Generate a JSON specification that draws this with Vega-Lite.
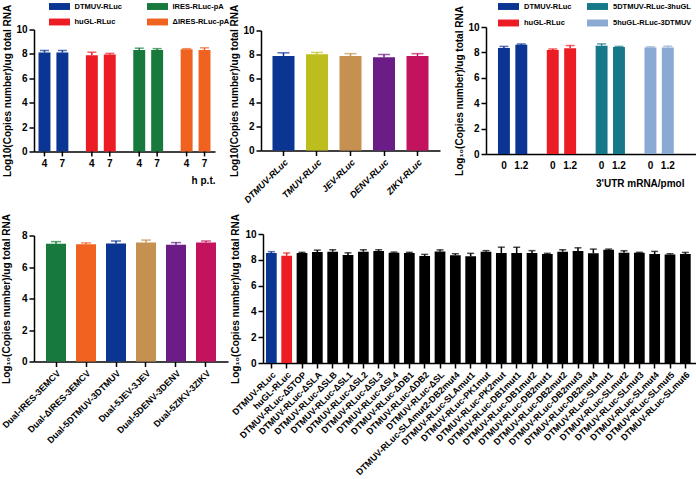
{
"$schema":"https://vega.github.io/schema/vega-lite/v6.json",
"padding":{"left":0,"top":1,"right":0,"bottom":0},
"spacing":8,
"config":{"font":"Liberation Sans","view":{"stroke":null},
"axis":{"domainColor":"black","domainWidth":1.5,"tickColor":"black","tickWidth":1.5,"tickSize":5,"labelFontWeight":"bold","labelFontSize":10,"labelColor":"black","titleFontWeight":"bold","titleFontSize":10,"titleColor":"black","grid":false,"labelPadding":2,"labelOverlap":false},
"legend":{"labelFontWeight":"bold","labelColor":"black"}},
"datasets":{
"a":[{"c":"DTMUV-RLuc","t":"4","v":8.11,"hi":8.28},{"c":"DTMUV-RLuc","t":"7","v":8.11,"hi":8.28},{"c":"huGL-RLuc","t":"4","v":7.89,"hi":8.14},{"c":"huGL-RLuc","t":"7","v":7.96,"hi":8.04},{"c":"IRES-RLuc-pA","t":"4","v":8.32,"hi":8.47},{"c":"IRES-RLuc-pA","t":"7","v":8.32,"hi":8.43},{"c":"ΔIRES-RLuc-pA","t":"4","v":8.38,"hi":8.43},{"c":"ΔIRES-RLuc-pA","t":"7","v":8.32,"hi":8.5}],
"b":[{"c":"DTMUV-RLuc","v":7.88,"hi":8.14},{"c":"TMUV-RLuc","v":8.02,"hi":8.17},{"c":"JEV-RLuc","v":7.88,"hi":8.07},{"c":"DENV-RLuc","v":7.77,"hi":8.0},{"c":"ZIKV-RLuc","v":7.88,"hi":8.07}],
"c":[{"c":"DTMUV-RLuc","t":"0","v":8.34,"hi":8.47},{"c":"DTMUV-RLuc","t":"1.2","v":8.6,"hi":8.67},{"c":"huGL-RLuc","t":"0","v":8.18,"hi":8.26},{"c":"huGL-RLuc","t":"1.2","v":8.32,"hi":8.54},{"c":"5DTMUV-RLuc-3huGL","t":"0","v":8.53,"hi":8.67},{"c":"5DTMUV-RLuc-3huGL","t":"1.2","v":8.42,"hi":8.47},{"c":"5huGL-RLuc-3DTMUV","t":"0","v":8.39,"hi":8.44},{"c":"5huGL-RLuc-3DTMUV","t":"1.2","v":8.39,"hi":8.49}],
"d":[{"c":"Dual-IRES-3EMCV","v":7.47,"hi":7.61},{"c":"Dual-ΔIRES-3EMCV","v":7.45,"hi":7.53},{"c":"Dual-5DTMUV-3DTMUV","v":7.5,"hi":7.65},{"c":"Dual-5JEV-3JEV","v":7.55,"hi":7.71},{"c":"Dual-5DENV-3DENV","v":7.41,"hi":7.55},{"c":"Dual-5ZIKV-3ZIKV","v":7.55,"hi":7.65}],
"e":[{"c":"DTMUV-RLuc","g":"DTMUV","v":8.53,"hi":8.63},{"c":"huGL-RLuc","g":"huGL","v":8.32,"hi":8.53},{"c":"DTMUV-RLuc-Δ5TOP","g":"mut","v":8.53,"hi":8.58},{"c":"DTMUV-RLuc-ΔSLA","g":"mut","v":8.6,"hi":8.75},{"c":"DTMUV-RLuc-ΔSLB","g":"mut","v":8.63,"hi":8.78},{"c":"DTMUV-RLuc-ΔSL1","g":"mut","v":8.37,"hi":8.54},{"c":"DTMUV-RLuc-ΔSL2","g":"mut","v":8.63,"hi":8.78},{"c":"DTMUV-RLuc-ΔSL3","g":"mut","v":8.68,"hi":8.78},{"c":"DTMUV-RLuc-ΔSL4","g":"mut","v":8.55,"hi":8.6},{"c":"DTMUV-RLuc-ΔDB1","g":"mut","v":8.53,"hi":8.58},{"c":"DTMUV-RLuc-ΔDB2","g":"mut","v":8.3,"hi":8.42},{"c":"DTMUV-RLuc-ΔSL","g":"mut","v":8.65,"hi":8.77},{"c":"DTMUV-RLuc-SLAmut2-DB2mut4","g":"mut","v":8.35,"hi":8.47},{"c":"DTMUV-RLuc-SLAmut1","g":"mut","v":8.27,"hi":8.5},{"c":"DTMUV-RLuc-PK1mut","g":"mut","v":8.63,"hi":8.71},{"c":"DTMUV-RLuc-PK2mut","g":"mut","v":8.53,"hi":8.98},{"c":"DTMUV-RLuc-DB1mut1","g":"mut","v":8.53,"hi":8.98},{"c":"DTMUV-RLuc-DB1mut2","g":"mut","v":8.53,"hi":8.71},{"c":"DTMUV-RLuc-DB2mut1","g":"mut","v":8.45,"hi":8.5},{"c":"DTMUV-RLuc-DB2mut2","g":"mut","v":8.63,"hi":8.78},{"c":"DTMUV-RLuc-DB2mut3","g":"mut","v":8.68,"hi":8.93},{"c":"DTMUV-RLuc-DB2mut4","g":"mut","v":8.5,"hi":8.83},{"c":"DTMUV-RLuc-SLmut1","g":"mut","v":8.78,"hi":8.83},{"c":"DTMUV-RLuc-SLmut2","g":"mut","v":8.55,"hi":8.7},{"c":"DTMUV-RLuc-SLmut3","g":"mut","v":8.55,"hi":8.58},{"c":"DTMUV-RLuc-SLmut4","g":"mut","v":8.45,"hi":8.65},{"c":"DTMUV-RLuc-SLmut5","g":"mut","v":8.42,"hi":8.47},{"c":"DTMUV-RLuc-SLmut6","g":"mut","v":8.45,"hi":8.57}]
},
"vconcat":[
{"hconcat":[
{"width":181,"height":122,"data":{"name":"a"},
"encoding":{
"x":{"field":"c","type":"nominal","sort":["DTMUV-RLuc","huGL-RLuc","IRES-RLuc-pA","ΔIRES-RLuc-pA"],"scale":{"paddingInner":0.37,"paddingOuter":0.095},"axis":{"title":"h p.t.","titleAnchor":"end","labels":false,"ticks":false,"titlePadding":24}},
"xOffset":{"field":"t","type":"nominal","sort":["4","7"],"scale":{"paddingInner":0.333,"paddingOuter":0}}},
"layer":[
{"mark":{"type":"bar"},"encoding":{"y":{"field":"v","type":"quantitative","scale":{"domain":[0,10],"nice":false},"axis":{"values":[0,2,4,6,8,10],"titlePadding":3},"title":"Log10(Copies number)/ug total RNA"},
"color":{"field":"c","type":"nominal","scale":{"domain":["DTMUV-RLuc","IRES-RLuc-pA","huGL-RLuc","ΔIRES-RLuc-pA"],"range":["#0a3592","#177a3c","#ec1c24","#f0621f"]},"legend":{"orient":"none","legendX":20,"legendY":-28.5,"direction":"horizontal","columns":2,"title":null,"symbolType":"M-2,-0.66H2V0.66H-2Z","symbolSize":110,"symbolStrokeWidth":0,"columnPadding":25,"rowPadding":6.5,"labelFontSize":7.5,"labelOffset":9.5}}}},
{"mark":{"type":"rule","strokeWidth":1.5},"encoding":{"y":{"field":"v","type":"quantitative","axis":{"values":[0,2,4,6,8,10],"titlePadding":3},"title":"Log10(Copies number)/ug total RNA"},"y2":{"field":"hi"},"color":{"field":"c","type":"nominal","legend":null}}},
{"mark":{"type":"tick","thickness":1.5,"size":9},"encoding":{"y":{"field":"hi","type":"quantitative","axis":{"values":[0,2,4,6,8,10],"titlePadding":3},"title":"Log10(Copies number)/ug total RNA"},"color":{"field":"c","type":"nominal","legend":null}}},
{"mark":{"type":"rule","strokeWidth":1.5,"color":"black"},"encoding":{"y":{"datum":0,"type":"quantitative","axis":{"values":[0,2,4,6,8,10],"titlePadding":3},"title":"Log10(Copies number)/ug total RNA"},"y2":{"datum":-0.4}}},
{"mark":{"type":"text","baseline":"top","dy":7,"fontSize":10,"fontWeight":"bold","color":"black"},"encoding":{"y":{"datum":0,"type":"quantitative","axis":{"values":[0,2,4,6,8,10],"titlePadding":3},"title":"Log10(Copies number)/ug total RNA"},"text":{"field":"t"}}}
]},
{"width":179,"height":120,"data":{"name":"b"},
"encoding":{"x":{"field":"c","type":"nominal","sort":null,"scale":{"paddingInner":0.343,"paddingOuter":0.343},"axis":{"title":null,"labelAngle":-45,"labelFontSize":9,"labelFontStyle":"italic"}}},
"layer":[
{"mark":{"type":"bar"},"encoding":{"y":{"field":"v","type":"quantitative","scale":{"domain":[0,10],"nice":false},"axis":{"values":[0,2,4,6,8,10],"titlePadding":3},"title":"Log10(Copies number)/ug total RNA"},
"color":{"field":"c","type":"nominal","scale":{"domain":["DTMUV-RLuc","TMUV-RLuc","JEV-RLuc","DENV-RLuc","ZIKV-RLuc"],"range":["#0a3592","#bebd1e","#c69150","#6b1c87","#c3125e"]},"legend":null}}},
{"mark":{"type":"rule","strokeWidth":1.5},"encoding":{"y":{"field":"v","type":"quantitative","axis":{"values":[0,2,4,6,8,10],"titlePadding":3},"title":"Log10(Copies number)/ug total RNA"},"y2":{"field":"hi"},"color":{"field":"c","type":"nominal","legend":null}}},
{"mark":{"type":"tick","thickness":1.5,"size":12},"encoding":{"y":{"field":"hi","type":"quantitative","axis":{"values":[0,2,4,6,8,10],"titlePadding":3},"title":"Log10(Copies number)/ug total RNA"},"color":{"field":"c","type":"nominal","legend":null}}}
]},
{"width":210,"height":127,"data":{"name":"c"},
"encoding":{
"x":{"field":"c","type":"nominal","sort":["DTMUV-RLuc","huGL-RLuc","5DTMUV-RLuc-3huGL","5huGL-RLuc-3DTMUV"],"scale":{"paddingInner":0.4,"paddingOuter":0.35,"align":0.35},"axis":{"title":"3'UTR mRNA/pmol","titleAnchor":"end","titleX":198,"titleAlign":"right","labels":false,"ticks":false,"titlePadding":24}},
"xOffset":{"field":"t","type":"nominal","sort":["0","1.2"],"scale":{"paddingInner":0.314,"paddingOuter":0}}},
"layer":[
{"mark":{"type":"bar"},"encoding":{"y":{"field":"v","type":"quantitative","scale":{"domain":[0,10],"nice":false},"axis":{"values":[0,2,4,6,8,10],"titlePadding":3},"title":"Log₁₀(Copies number)/ug total RNA"},
"color":{"field":"c","type":"nominal","scale":{"domain":["DTMUV-RLuc","5DTMUV-RLuc-3huGL","huGL-RLuc","5huGL-RLuc-3DTMUV"],"range":["#0a3592","#17788a","#ec1c24","#8aa9d3"]},"legend":{"orient":"none","legendX":17,"legendY":-26,"direction":"horizontal","columns":2,"title":null,"symbolType":"M-2,-0.66H2V0.66H-2Z","symbolSize":110,"symbolStrokeWidth":0,"columnPadding":15,"rowPadding":7.5,"labelFontSize":7.5,"labelOffset":10}}}},
{"mark":{"type":"rule","strokeWidth":1.5},"encoding":{"y":{"field":"v","type":"quantitative","axis":{"values":[0,2,4,6,8,10],"titlePadding":3},"title":"Log₁₀(Copies number)/ug total RNA"},"y2":{"field":"hi"},"color":{"field":"c","type":"nominal","legend":null}}},
{"mark":{"type":"tick","thickness":1.5,"size":9},"encoding":{"y":{"field":"hi","type":"quantitative","axis":{"values":[0,2,4,6,8,10],"titlePadding":3},"title":"Log₁₀(Copies number)/ug total RNA"},"color":{"field":"c","type":"nominal","legend":null}}},
{"mark":{"type":"text","baseline":"top","dy":7,"fontSize":10,"fontWeight":"bold","color":"black"},"encoding":{"y":{"datum":0,"type":"quantitative","axis":{"values":[0,2,4,6,8,10],"titlePadding":3},"title":"Log₁₀(Copies number)/ug total RNA"},"text":{"field":"t"}}}
]}
],"spacing":46,"bounds":"flush","center":true,
"resolve":{"scale":{"color":"independent","x":"independent","y":"independent","xOffset":"independent"},"legend":{"color":"independent"},"axis":{"x":"independent","y":"independent"}}},
{"hconcat":[
{"width":194,"height":126,"data":{"name":"d"},
"encoding":{"x":{"field":"c","type":"nominal","sort":null,"scale":{"paddingInner":0.333,"paddingOuter":0.4},"axis":{"title":null,"labelAngle":-45,"labelFontSize":9}}},
"layer":[
{"mark":{"type":"bar"},"encoding":{"y":{"field":"v","type":"quantitative","scale":{"domain":[0,8],"nice":false},"axis":{"values":[0,2,4,6,8],"titlePadding":10},"title":"Log₁₀(Copies number)/ug total RNA"},
"color":{"field":"c","type":"nominal","scale":{"domain":["Dual-IRES-3EMCV","Dual-ΔIRES-3EMCV","Dual-5DTMUV-3DTMUV","Dual-5JEV-3JEV","Dual-5DENV-3DENV","Dual-5ZIKV-3ZIKV"],"range":["#177a3c","#f0621f","#0a3592","#c69150","#6b1c87","#c3125e"]},"legend":null}}},
{"mark":{"type":"rule","strokeWidth":1.5},"encoding":{"y":{"field":"v","type":"quantitative","axis":{"values":[0,2,4,6,8],"titlePadding":10},"title":"Log₁₀(Copies number)/ug total RNA"},"y2":{"field":"hi"},"color":{"field":"c","type":"nominal","legend":null}}},
{"mark":{"type":"tick","thickness":1.5,"size":10},"encoding":{"y":{"field":"hi","type":"quantitative","axis":{"values":[0,2,4,6,8],"titlePadding":10},"title":"Log₁₀(Copies number)/ug total RNA"},"color":{"field":"c","type":"nominal","legend":null}}}
]},
{"width":433,"height":129,"data":{"name":"e"},
"encoding":{"x":{"field":"c","type":"nominal","sort":null,"scale":{"paddingInner":0.3,"paddingOuter":0.27,"align":0.36},"axis":{"title":null,"labelAngle":-45,"labelFontSize":9}}},
"layer":[
{"mark":{"type":"bar"},"encoding":{"y":{"field":"v","type":"quantitative","scale":{"domain":[0,10],"nice":false},"axis":{"values":[0,2,4,6,8,10],"titlePadding":4},"title":"Log₁₀(Copies number)/ug total RNA"},
"color":{"field":"g","type":"nominal","scale":{"domain":["DTMUV","huGL","mut"],"range":["#0a3592","#ec1c24","#000000"]},"legend":null}}},
{"mark":{"type":"rule","strokeWidth":1.5},"encoding":{"y":{"field":"v","type":"quantitative","axis":{"values":[0,2,4,6,8,10],"titlePadding":4},"title":"Log₁₀(Copies number)/ug total RNA"},"y2":{"field":"hi"},"color":{"field":"g","type":"nominal","legend":null}}},
{"mark":{"type":"tick","thickness":1.5,"size":7},"encoding":{"y":{"field":"hi","type":"quantitative","axis":{"values":[0,2,4,6,8,10],"titlePadding":4},"title":"Log₁₀(Copies number)/ug total RNA"},"color":{"field":"g","type":"nominal","legend":null}}}
]}
],"spacing":35,"bounds":"flush","center":true,
"resolve":{"scale":{"color":"independent","x":"independent","y":"independent"},"legend":{"color":"independent"},"axis":{"x":"independent","y":"independent"}}}
],
"resolve":{"scale":{"color":"independent","x":"independent","y":"independent"},"legend":{"color":"independent"},"axis":{"x":"independent","y":"independent"}}
}
